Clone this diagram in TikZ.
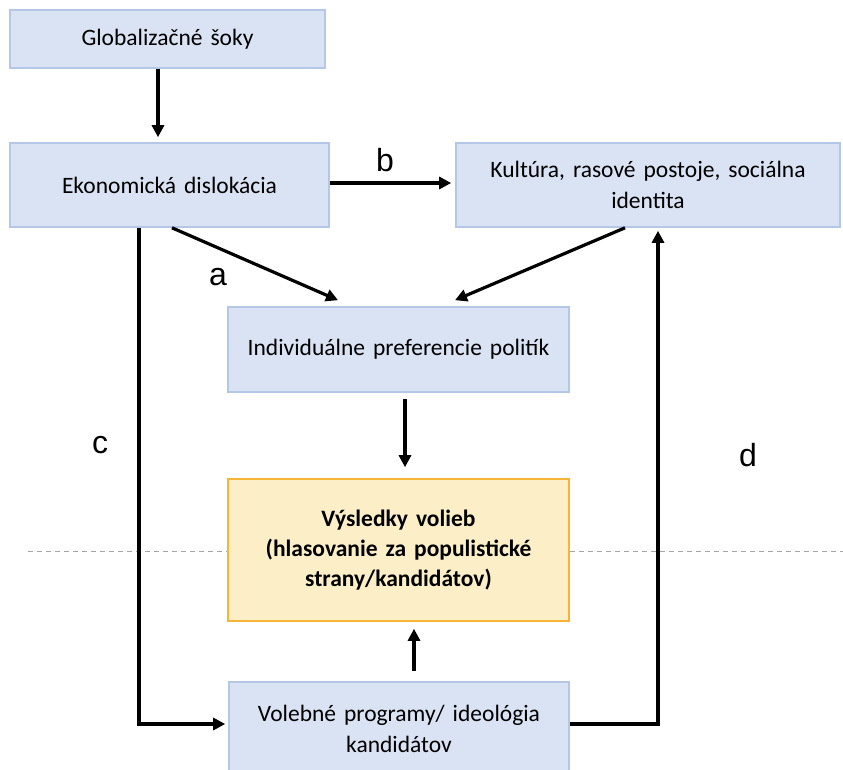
\documentclass[tikz,border=0pt]{standalone}
\usepackage{fontspec}
\setmainfont[WordSpace=1.5]{Carlito}
\newfontfamily\labfont{Liberation Sans}
\usetikzlibrary{arrows.meta}
\definecolor{bluefill}{HTML}{DAE3F3}
\definecolor{blueline}{HTML}{B4C7E7}
\definecolor{yelfill}{HTML}{FCEFC8}
\definecolor{yelline}{HTML}{F7B538}
\begin{document}
\begin{tikzpicture}[x=1pt,y=-1pt,
  box/.style={draw=blueline,fill=bluefill,line width=1.6pt,rectangle,inner sep=0pt,
    align=center,font=\fontsize{23.5}{31}\selectfont,text=black},
  ybox/.style={box,draw=yelline,fill=yelfill,font=\fontsize{23.5}{30}\selectfont\bfseries},
  arr/.style={line width=3.2pt,-{Triangle[length=12pt,width=12pt]}},
  lab/.style={font=\labfont\fontsize{32}{32}\selectfont},
  dline/.style={draw=gray!70,line width=1pt,dash pattern=on 5pt off 4pt}]
\useasboundingbox (0,0) rectangle (843,769);
\node[box,minimum width=315pt,minimum height=58pt] (glob) at (167.5,39) {Globalizačné šoky};
\node[box,minimum width=319pt,minimum height=84pt] (ekon) at (169.5,185) {Ekonomická dislokácia};
\node[box,minimum width=384pt,minimum height=84pt] (kult) at (648,185) {Kultúra, rasové postoje, sociálna\\identita};
\node[box,minimum width=341pt,minimum height=85pt] (indiv) at (398.5,349.5) {Individuálne preferencie politík};
\node[ybox,minimum width=341pt,minimum height=142pt] (vys) at (398.5,550) {Výsledky volieb\\(hlasovanie za populistické\\strany/kandidátov)};
\node[box,minimum width=340pt,minimum height=94pt] (vol) at (399,729) {Volebné programy/ ideológia\\kandidátov};

\coordinate (dl) at (28,551);
\coordinate (dr) at (843,551);
\draw[dline] (dl) -- (dl -| vys.west);
\draw[dline] (vys.east |- dr) -- (dr);

\draw[arr,shorten >=5pt] ([xshift=-9.5pt]glob.south) -- ([xshift=-11.5pt]ekon.north);
\draw[arr,shorten >=4pt] ([yshift=2pt]ekon.east) -- ([yshift=2pt]kult.west);
\draw[arr] ([xshift=2.5pt]ekon.south) -- ([xshift=-60.5pt,yshift=6pt]indiv.north);
\draw[arr] ([xshift=-23pt]kult.south) -- ([xshift=56.5pt,yshift=6pt]indiv.north);
\draw[arr] ([xshift=6.5pt,yshift=-6pt]indiv.south) -- ([xshift=6.5pt,yshift=11pt]vys.north);
\draw[arr] ([xshift=15pt,yshift=10pt]vol.north) -- ([xshift=15.5pt,yshift=-7pt]vys.south);
\draw[arr,shorten >=3pt] ([xshift=-30.5pt]ekon.south) |- ([yshift=5pt]vol.west);
\draw[arr,shorten >=3pt] ([yshift=5pt]vol.east) -| ([xshift=10pt]kult.south);

\node[lab] (lb) at (385,160) {b};
\node[lab] (la) at (218,277) {a};
\node[lab] (lc) at (100,445) {c};
\node[lab] (ld) at (748,455) {d};
\end{tikzpicture}
\end{document}
